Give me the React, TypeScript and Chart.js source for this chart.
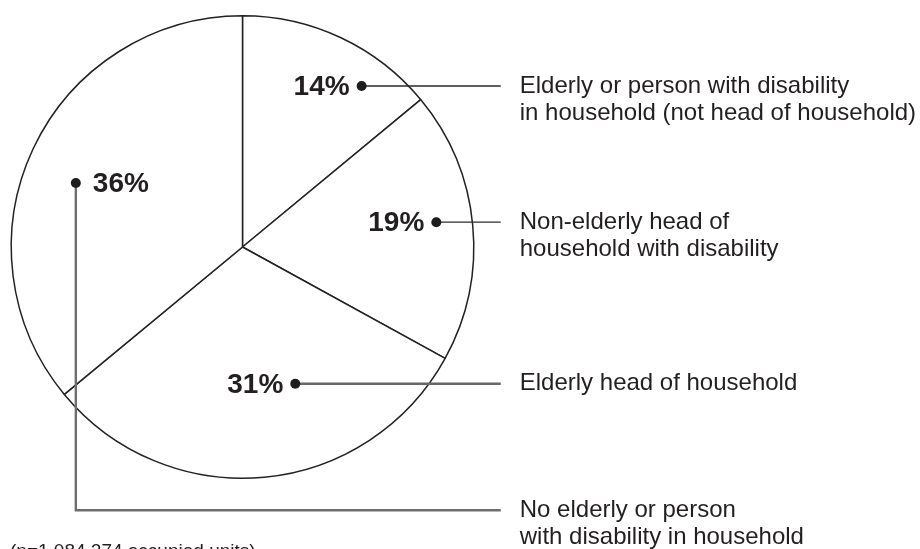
import React, { useEffect, useRef } from "react";
import { Chart, registerables } from "chart.js";

Chart.register(...registerables);

// ---- data ----
const categories: string[][] = [
  ["Elderly or person with disability", "in household (not head of household)"],
  ["Non-elderly head of", "household with disability"],
  ["Elderly head of household"],
  ["No elderly or person", "with disability in household"],
];
const shares: number[] = [14, 19, 31, 36];
const percentLabels: string[] = ["14%", "19%", "31%", "36%"];
const footnote = "(n=1,084,274 occupied units)";

// ---- label layout (relative to each arc's geometry) ----
const dotAngleDeg = [36.5, 82.7, 158.9, 291]; // clockwise from top
const dotRadiusFrac = [0.866, 0.845, 0.634, 0.772];
const percentOnLeft = [true, true, true, false];
const leaderColor = ["#2a2a2a", "#2a2a2a", "#666666", "#6e6e6e"];
const leaderWidth = [1.3, 1.4, 2.4, 2.4];
const elbowDown = [false, false, false, true];

const FONT = "'Liberation Sans', Arial, Helvetica, sans-serif";

const annotationPlugin = {
  id: "annotations",
  afterDraw(chart: any) {
    const ctx: CanvasRenderingContext2D = chart.ctx;
    const meta = chart.getDatasetMeta(0);
    const arcs = meta.data;
    if (!arcs.length) return;
    const first = arcs[0];
    const cx = first.x;
    const cy = first.y;
    const R = first.outerRadius;
    const lineEndX = cx + R + 27;
    const textX = cx + R + 46;
    const elbowY = cy + R + 32;
    const lineH = 27;

    ctx.save();
    arcs.forEach((arc: any, i: number) => {
      const a = ((dotAngleDeg[i] - 90) * Math.PI) / 180;
      const r = R * dotRadiusFrac[i];
      const dx = cx + r * Math.cos(a);
      const dy = cy + r * Math.sin(a);

      // leader line
      ctx.beginPath();
      ctx.strokeStyle = leaderColor[i];
      ctx.lineWidth = leaderWidth[i];
      ctx.moveTo(dx, dy);
      let labelY = dy;
      if (elbowDown[i]) {
        ctx.lineTo(dx, elbowY);
        ctx.lineTo(lineEndX, elbowY);
        labelY = elbowY;
      } else {
        ctx.lineTo(lineEndX, dy);
      }
      ctx.stroke();

      // dot
      ctx.beginPath();
      ctx.fillStyle = "#1e1c1d";
      ctx.arc(dx, dy, 5, 0, Math.PI * 2);
      ctx.fill();

      // percent label
      ctx.font = `bold 28px ${FONT}`;
      ctx.fillStyle = "#231f20";
      ctx.textBaseline = "middle";
      if (percentOnLeft[i]) {
        ctx.textAlign = "right";
        ctx.fillText(percentLabels[i], dx - 12, dy + 1);
      } else {
        ctx.textAlign = "left";
        ctx.fillText(percentLabels[i], dx + 17, dy + 1);
      }

      // category label
      ctx.font = `24px ${FONT}`;
      ctx.fillStyle = "#231f20";
      ctx.textAlign = "left";
      ctx.textBaseline = "middle";
      categories[i].forEach((line, k) => {
        ctx.fillText(line, textX, labelY + k * lineH);
      });
    });

    // footnote
    ctx.font = `19px ${FONT}`;
    ctx.fillStyle = "#231f20";
    ctx.textAlign = "left";
    ctx.textBaseline = "top";
    ctx.fillText(footnote, 10, 542);
    ctx.restore();
  },
};

export default function App() {
  const ref = useRef<HTMLCanvasElement | null>(null);

  useEffect(() => {
    document.body.style.margin = "0";
    const canvas = ref.current;
    if (!canvas) return;
    const chart = new Chart(canvas, {
      type: "pie",
      data: {
        labels: categories.map((c) => c.join(" ")),
        datasets: [
          {
            data: shares,
            backgroundColor: "#ffffff",
            borderColor: "#222222",
            borderWidth: 1.5,
            hoverOffset: 0,
            offset: 0,
          },
        ],
      },
      options: {
        responsive: false,
        animation: false,
        events: [],
        layout: { padding: { left: 10, top: 15, right: 445, bottom: 70 } },
        plugins: {
          legend: { display: false },
          tooltip: { enabled: false },
        },
      },
      plugins: [annotationPlugin],
    });
    return () => chart.destroy();
  }, []);

  return (
    <div style={{ position: "absolute", left: 0, top: 0, width: 920, height: 549, background: "#fff" }}>
      <canvas ref={ref} width={920} height={549} style={{ display: "block" }} />
    </div>
  );
}
